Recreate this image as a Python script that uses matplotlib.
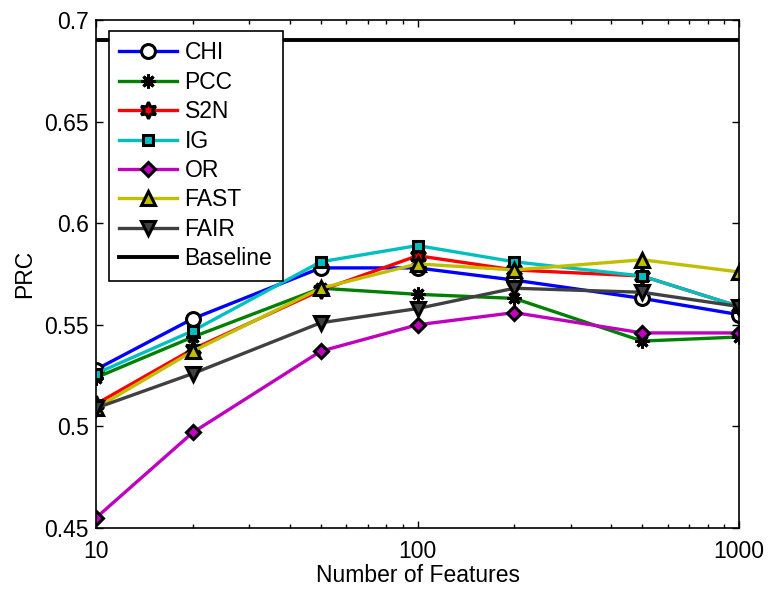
import matplotlib
matplotlib.use("Agg")
import matplotlib.pyplot as plt
from matplotlib.ticker import NullFormatter, LogLocator

plt.rcParams['font.family'] = ['Liberation Sans', 'DejaVu Sans']

features = [10, 20, 50, 100, 200, 500, 1000]
chi = [0.528, 0.553, 0.578, 0.578, 0.572, 0.563, 0.555]
pcc = [0.524, 0.544, 0.568, 0.565, 0.563, 0.542, 0.544]
s2n = [0.511, 0.538, 0.567, 0.584, 0.577, 0.574, 0.559]
ig = [0.526, 0.547, 0.581, 0.589, 0.581, 0.574, 0.559]
or_ = [0.455, 0.497, 0.537, 0.550, 0.556, 0.546, 0.546]
fast = [0.509, 0.537, 0.568, 0.580, 0.577, 0.582, 0.576]
fair = [0.509, 0.526, 0.551, 0.558, 0.568, 0.566, 0.559]
baseline = 0.69

series = [
    ("CHI", chi, (0, 0, 1), 'o', 10, 'w'),
    ("PCC", pcc, (0, 0.5, 0), (8, 2, 0), 10, 'k'),
    ("S2N", s2n, (1, 0, 0), (6, 1, 0), 12, None),
    ("IG", ig, (0, 0.75, 0.75), 's', 7.5, None),
    ("OR", or_, (0.75, 0, 0.75), 'D', 7.5, None),
    ("FAST", fast, (0.75, 0.75, 0), '^', 10, None),
    ("FAIR", fair, (0.25, 0.25, 0.25), 'v', 10, None),
]

FS = 16.5
fig = plt.figure(figsize=(7.69, 5.89), dpi=100)
ax = fig.add_axes([96 / 769, 1 - 528 / 589, (739 - 96) / 769, (528 - 20) / 589])

for name, vals, col, mk, ms, fc in series:
    ax.plot(features, vals, color=col, lw=2.4, marker=mk, markersize=ms,
            markeredgecolor='k', markerfacecolor=(fc if fc else col),
            markeredgewidth=2.2, label=name)
ax.axhline(baseline, color='k', lw=2.8, label='Baseline')

ax.set_xscale('log')
ax.set_xlim(10, 1000)
ax.set_ylim(0.45, 0.7)
ax.set_xticks([10, 100, 1000])
ax.set_xticklabels(['10', '100', '1000'])
ax.xaxis.set_minor_locator(LogLocator(base=10, subs=range(2, 10)))
ax.xaxis.set_minor_formatter(NullFormatter())
ax.set_yticks([0.45, 0.5, 0.55, 0.6, 0.65, 0.7])
ax.set_yticklabels(['0.45', '0.5', '0.55', '0.6', '0.65', '0.7'])
ax.tick_params(which='both', direction='in', top=True, right=True, labelsize=FS, width=1.0)
ax.tick_params(axis='y', pad=5)
ax.tick_params(axis='x', pad=9)
ax.tick_params(which='major', length=5)
ax.tick_params(which='minor', length=3)
for s in ax.spines.values():
    s.set_linewidth(1.2)
ax.set_xlabel('Number of Features', fontsize=FS, labelpad=0)
ax.set_ylabel('PRC', fontsize=FS, labelpad=6)

leg = ax.legend(loc='upper left', bbox_to_anchor=((109 - 96) / 643, (528 - 31) / 508),
                fontsize=FS, frameon=True, fancybox=False, edgecolor='k',
                handlelength=2.5, labelspacing=0.28, borderaxespad=0,
                handletextpad=0.35, borderpad=0.45, framealpha=1)
leg.get_frame().set_linewidth(1.2)

fig.savefig('out.png', dpi=100)
